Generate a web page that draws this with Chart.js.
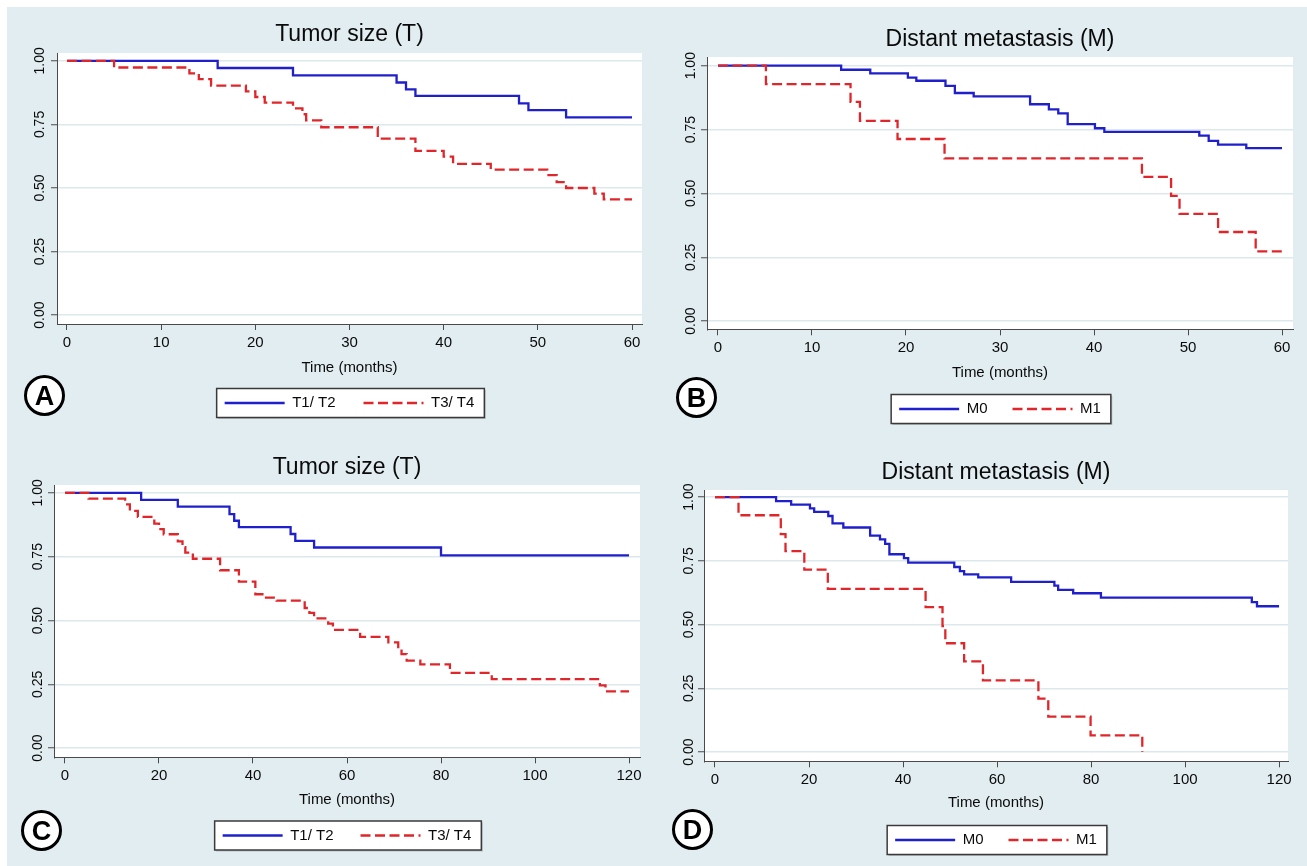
<!DOCTYPE html>
<html>
<head>
<meta charset="utf-8">
<script src="https://cdn.jsdelivr.net/npm/chart.js@4.4.1/dist/chart.umd.min.js"></script>
<style>
  html, body { margin:0; padding:0; background:#ffffff; }
  body { width:1307px; height:866px; position:relative; overflow:hidden; font-family:'Liberation Sans', Arial, sans-serif; }
  #bg { position:absolute; left:7px; top:7px; right:0; bottom:0; background:#e2edf1; }
  canvas { position:absolute; }
  .tag { position:absolute; width:35px; height:35px; border:3.5px solid #000; border-radius:50%; background:#fff;
         font:bold 27px 'Liberation Sans', Arial, sans-serif; color:#000; text-align:center; line-height:36px; }
</style>
</head>
<body>
<div id="bg"></div>
<canvas id="cA" width="645" height="425" style="left:8px;top:8px;width:645px;height:425px"></canvas>
<canvas id="cB" width="647" height="425" style="left:660px;top:8px;width:647px;height:425px"></canvas>
<canvas id="cC" width="645" height="425" style="left:8px;top:441px;width:645px;height:425px"></canvas>
<canvas id="cD" width="647" height="425" style="left:660px;top:441px;width:647px;height:425px"></canvas>
<div class="tag" style="left:24px;top:375px">A</div>
<div class="tag" style="left:676px;top:377px">B</div>
<div class="tag" style="left:21px;top:810px">C</div>
<div class="tag" style="left:672px;top:809px">D</div>
<script>
// ---------- data ----------
const titleTumor = 'Tumor size (T)';
const titleMeta = 'Distant metastasis (M)';
const xAxisTitle = 'Time (months)';
const seriesTumor = ['T1/ T2', 'T3/ T4'];
const seriesMeta = ['M0', 'M1'];
const yTickValues = [0, 0.25, 0.5, 0.75, 1];
const xTicks5 = [0, 10, 20, 30, 40, 50, 60];
const xTicks10 = [0, 20, 40, 60, 80, 100, 120];

// Panel A: tumor size, 5-year
const tumorT12Time5 = [0, 16, 24, 35, 36, 37, 48, 49, 53, 60];
const tumorT12Surv5 = [1, 0.972, 0.943, 0.915, 0.888, 0.862, 0.833, 0.806, 0.778, 0.778];
const tumorT34Time5 = [0, 5, 13, 14, 15.3, 19, 20, 21, 24, 25, 25.4, 27, 33, 37, 40, 41, 45, 51, 52, 53, 56, 57, 60];
const tumorT34Surv5 = [1, 0.974, 0.951, 0.928, 0.903, 0.880, 0.858, 0.836, 0.813, 0.790, 0.766, 0.739, 0.694, 0.646, 0.623, 0.595, 0.572, 0.551, 0.523, 0.500, 0.478, 0.455, 0.455];

// Panel B: distant metastasis, 5-year
const metM0Time5 = [0, 13.1, 16.2, 20.2, 21.1, 24.2, 25.2, 27.2, 33.2, 35.2, 36.2, 37.2, 40.1, 41.1, 51.2, 52.2, 53.2, 56.2, 60];
const metM0Surv5 = [1, 0.984, 0.970, 0.953, 0.941, 0.921, 0.893, 0.880, 0.849, 0.829, 0.813, 0.771, 0.755, 0.741, 0.726, 0.706, 0.691, 0.677, 0.677];
const metM1Time5 = [0, 5.1, 14.1, 15.1, 19.1, 24.1, 45.1, 48.2, 49.1, 53.2, 57.2, 60];
const metM1Surv5 = [1, 0.928, 0.858, 0.784, 0.713, 0.637, 0.565, 0.490, 0.420, 0.349, 0.273, 0.273];

// Panel C: tumor size, 10-year
const tumorT12Time10 = [0, 16.2, 24, 35, 36, 37, 48, 49, 53, 80, 120];
const tumorT12Surv10 = [1, 0.973, 0.946, 0.917, 0.891, 0.866, 0.839, 0.812, 0.786, 0.755, 0.755];
const tumorT34Time10 = [0, 5, 12.8, 13.8, 15.5, 19, 20, 21, 24, 25, 25.6, 27.2, 33, 37, 40.5, 42, 45, 51, 52, 53, 56, 57, 62.8, 68.8, 70.9, 71.6, 72.7, 75.6, 81.9, 90.8, 113.8, 115, 120];
const tumorT34Surv10 = [1, 0.978, 0.955, 0.930, 0.906, 0.880, 0.858, 0.838, 0.810, 0.787, 0.766, 0.742, 0.697, 0.652, 0.603, 0.590, 0.578, 0.549, 0.530, 0.508, 0.488, 0.463, 0.436, 0.414, 0.388, 0.368, 0.343, 0.328, 0.295, 0.270, 0.246, 0.222, 0.222];

// Panel D: distant metastasis, 10-year
const metM0Time10 = [0, 13, 16.2, 20.2, 21.1, 24.1, 25, 27.3, 33, 35.1, 36.2, 37.1, 40.2, 41.1, 50.9, 52.1, 53, 56, 63, 72.2, 73, 76.2, 82.1, 114.2, 115.3, 120];
const metM0Surv10 = [1, 0.984, 0.971, 0.956, 0.942, 0.926, 0.897, 0.881, 0.849, 0.834, 0.817, 0.776, 0.761, 0.743, 0.726, 0.710, 0.697, 0.685, 0.668, 0.653, 0.636, 0.623, 0.606, 0.588, 0.572, 0.572];
const metM1Time10 = [0, 5, 14, 15, 19, 24, 44.8, 48.4, 49, 53, 57, 68.8, 70.9, 79.9, 90.9];
const metM1Surv10 = [1, 0.929, 0.855, 0.788, 0.716, 0.640, 0.569, 0.494, 0.427, 0.356, 0.281, 0.210, 0.139, 0.066, 0];

// ---------- styling ----------
const FONT = "'Liberation Sans', Arial, sans-serif";
const BLUE = '#1f1fcc';
const RED = '#e0262b';
const AXIS = '#4a4a4a';
const GRID = '#dde8ec';
const TEXT = '#0a0a0a';
const LINE_W = 2.3;
const RED_DASH = [10, 4.5];

function pts(times, surv) { return times.map((t, i) => ({ x: t, y: surv[i] })); }

const panelBg = {
  id: 'panelBg',
  beforeDraw(chart, args, o) {
    const { ctx, chartArea: a } = chart;
    ctx.save();
    ctx.fillStyle = '#ffffff';
    ctx.fillRect(a.left, a.top, a.right - a.left, a.bottom - a.top);
    const L = chart.legend;
    if (L && L.lineWidths) {
      const pad = o.pad, fs = o.fs;
      const x0 = (L.left + pad + L.right - L.lineWidths[0]) / 2;
      const x1 = x0 + L.lineWidths[0] - pad;
      const yc = L.top + pad + fs / 2;
      ctx.fillStyle = 'rgba(0,0,0,0.18)';
      ctx.fillRect(x0 - 8 + 1.5, yc - 14.5 + 1.5, x1 - x0 + 18, 29);
      ctx.fillStyle = '#ffffff';
      ctx.fillRect(x0 - 8, yc - 14.5, x1 - x0 + 18, 29);
      ctx.strokeStyle = '#3a3a3a';
      ctx.lineWidth = 1.5;
      ctx.strokeRect(x0 - 8, yc - 14.5, x1 - x0 + 18, 29);
    }
    ctx.restore();
  }
};

function legendLabels(chart) {
  return chart.data.datasets.map((d, i) => ({
    text: d.label,
    datasetIndex: i,
    fillStyle: d.borderColor,
    strokeStyle: d.borderColor,
    lineWidth: d.borderWidth,
    lineDash: d.borderDash || [],
    lineCap: 'butt',
    pointStyle: 'line',
    hidden: false,
    fontColor: TEXT
  }));
}

function makePanel(id, cfg) {
  const ds = [
    { label: cfg.names[0], data: pts(cfg.t1, cfg.s1), borderColor: BLUE, backgroundColor: BLUE,
      borderWidth: LINE_W, stepped: true, pointRadius: 0, fill: false, order: 1 },
    { label: cfg.names[1], data: pts(cfg.t2, cfg.s2), borderColor: RED, backgroundColor: RED,
      borderWidth: LINE_W, borderDash: RED_DASH, stepped: true, pointRadius: 0, fill: false, order: 0 }
  ];
  return new Chart(document.getElementById(id), {
    type: 'line',
    data: { datasets: ds },
    plugins: [panelBg],
    options: {
      responsive: false,
      animation: false,
      events: [],
      layout: { padding: cfg.layout },
      scales: {
        x: {
          type: 'linear', min: cfg.xmin, max: cfg.xmax,
          afterBuildTicks: s => { s.ticks = cfg.xt.map(v => ({ value: v })); },
          ticks: { autoSkip: false, maxRotation: 0, minRotation: 0, padding: cfg.xtp,
                   font: { size: 15, family: FONT }, color: TEXT },
          grid: { drawOnChartArea: false, drawTicks: true, tickLength: 6, tickColor: AXIS, tickWidth: 1 },
          border: { display: true, color: AXIS, width: 1 },
          title: { display: true, text: xAxisTitle, color: TEXT, font: { size: 15, family: FONT },
                   padding: { top: cfg.xTitleTop, bottom: cfg.xTitleBottom } }
        },
        y: {
          type: 'linear', min: cfg.ymin, max: cfg.ymax,
          afterBuildTicks: s => { s.ticks = yTickValues.map(v => ({ value: v })); },
          afterFit: s => { s.width = cfg.yw; },
          ticks: { minRotation: 90, maxRotation: 90, crossAlign: 'center', padding: cfg.ytp,
                   font: { size: 14, family: FONT }, color: TEXT,
                   callback: v => Number(v).toFixed(2) },
          grid: { color: GRID, lineWidth: 1.5, drawTicks: true, tickLength: 6, tickColor: AXIS, tickWidth: 1 },
          border: { display: true, color: AXIS, width: 1 }
        }
      },
      plugins: {
        panelBg: { pad: cfg.lp, fs: 15 },
        tooltip: { enabled: false },
        title: { display: true, text: cfg.title, fullSize: false, color: TEXT,
                 font: { size: 23, family: FONT, weight: 'normal' },
                 padding: { top: cfg.tTop, bottom: cfg.tBottom } },
        legend: {
          display: true, position: 'bottom', fullSize: false, align: 'center',
          labels: { usePointStyle: true, pointStyle: 'line', pointStyleWidth: 60, padding: cfg.lp,
                    color: TEXT, font: { size: 15, family: FONT },
                    generateLabels: legendLabels,
                    sort: (a, b) => a.datasetIndex - b.datasetIndex }
        }
      }
    }
  });
}

// title heights: lineHeight = 23*1.2 = 27.6 -> centre offset 13.8
// x tick label lineHeight = 15*1.2 = 18 -> centre offset 9
makePanel('cA', {
  title: titleTumor, names: seriesTumor, t1: tumorT12Time5, s1: tumorT12Surv5, t2: tumorT34Time5, s2: tumorT34Surv5,
  xt: xTicks5, xmin: -1.06, xmax: 61.06, ymin: -0.035, ymax: 1.031,
  layout: { left: 0, right: 11, top: 0, bottom: 12.5 }, yw: 49, ytp: -2.6,
  tTop: 13.2, tBottom: 4.2, xtp: 4.0, xTitleTop: 3.0, xTitleBottom: -9.5, lp: 28
});
makePanel('cB', {
  title: titleMeta, names: seriesMeta, t1: metM0Time5, s1: metM0Surv5, t2: metM1Time5, s2: metM1Surv5,
  xt: xTicks5, xmin: -1.17, xmax: 61.17, ymin: -0.032, ymax: 1.034,
  layout: { left: 0, right: 14, top: 0, bottom: 6.5 }, yw: 47, ytp: -3.9,
  tTop: 18.2, tBottom: 3.2, xtp: 3.7, xTitleTop: 3.3, xTitleBottom: -5.5, lp: 25
});
makePanel('cC', {
  title: titleTumor, names: seriesTumor, t1: tumorT12Time10, s1: tumorT12Surv10, t2: tumorT34Time10, s2: tumorT34Surv10,
  xt: xTicks10, xmin: -2.34, xmax: 122.34, ymin: -0.036, ymax: 1.031,
  layout: { left: 0, right: 13, top: 0, bottom: 13 }, yw: 46, ytp: -3.6,
  tTop: 13.2, tBottom: 3.2, xtp: 3.7, xTitleTop: 2.0, xTitleBottom: -7.7, lp: 27
});
makePanel('cD', {
  title: titleMeta, names: seriesMeta, t1: metM0Time10, s1: metM0Surv10, t2: metM1Time10, s2: metM1Surv10,
  xt: xTicks10, xmin: -2.34, xmax: 121.9, ymin: -0.036, ymax: 1.028,
  layout: { left: 0, right: 19, top: 0, bottom: 8.5 }, yw: 44, ytp: -5,
  tTop: 17.5, tBottom: 3.9, xtp: 3.7, xTitleTop: 1.3, xTitleBottom: -4.5, lp: 25
});
</script>
</body>
</html>
